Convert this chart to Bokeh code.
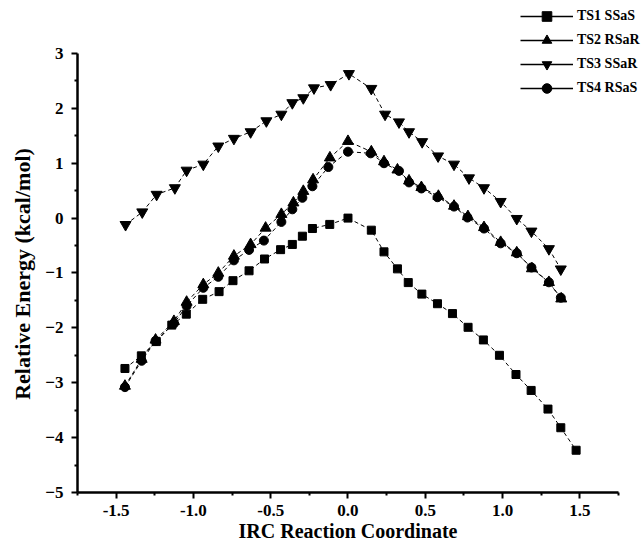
from bokeh.plotting import figure
from bokeh.models import (Range1d, FixedTicker, Legend, LegendItem,
                          ColumnDataSource)
from bokeh.embed import file_html
from bokeh.resources import INLINE

# ---- data ----
ts1_x = [-1.443, -1.337, -1.24, -1.14, -1.046, -0.94, -0.834, -0.744, -0.64, -0.54,
         -0.436, -0.36, -0.295, -0.23, -0.118, 0.0, 0.151, 0.233, 0.32, 0.39,
         0.478, 0.579, 0.676, 0.777, 0.876, 0.98, 1.087, 1.185, 1.294, 1.377, 1.476]
ts1_y = [-2.74, -2.51, -2.25, -1.95, -1.75, -1.48, -1.34, -1.14, -0.96, -0.745,
         -0.575, -0.48, -0.33, -0.19, -0.115, 0.0, -0.22, -0.615, -0.925, -1.175,
         -1.385, -1.56, -1.74, -1.99, -2.22, -2.5, -2.85, -3.14, -3.48, -3.82, -4.23]

ts2_x = [-1.443, -1.335, -1.245, -1.126, -1.044, -0.936, -0.839, -0.738, -0.63, -0.533,
         -0.431, -0.353, -0.289, -0.226, -0.117, 0.0, 0.151, 0.233, 0.32, 0.395,
         0.475, 0.585, 0.686, 0.776, 0.88, 0.988, 1.092, 1.19, 1.30, 1.38]
ts2_y = [-3.06, -2.57, -2.22, -1.88, -1.53, -1.21, -1.0, -0.69, -0.48, -0.18,
         0.07, 0.28, 0.49, 0.70, 1.10, 1.40, 1.21, 1.03, 0.88, 0.68,
         0.56, 0.40, 0.22, 0.03, -0.17, -0.44, -0.63, -0.92, -1.17, -1.47]

ts3_x = [-1.439, -1.331, -1.238, -1.12, -1.044, -0.936, -0.839, -0.738, -0.63, -0.528,
         -0.431, -0.36, -0.289, -0.22, -0.112, 0.006, 0.151, 0.24, 0.33, 0.395,
         0.48, 0.583, 0.686, 0.783, 0.88, 0.988, 1.092, 1.187, 1.30, 1.377]
ts3_y = [-0.12, 0.11, 0.43, 0.55, 0.87, 0.98, 1.31, 1.45, 1.57, 1.77,
         1.89, 2.10, 2.19, 2.37, 2.43, 2.63, 2.36, 1.89, 1.75, 1.57,
         1.39, 1.13, 0.98, 0.73, 0.55, 0.30, -0.01, -0.24, -0.56, -0.93]

ts4_x = [-1.443, -1.335, -1.245, -1.126, -1.044, -0.936, -0.839, -0.738, -0.64, -0.544,
         -0.431, -0.36, -0.295, -0.23, -0.127, 0.0, 0.147, 0.233, 0.33, 0.395,
         0.475, 0.579, 0.686, 0.773, 0.88, 0.988, 1.092, 1.187, 1.30, 1.377]
ts4_y = [-3.08, -2.60, -2.24, -1.92, -1.60, -1.27, -1.07, -0.77, -0.58, -0.41,
         -0.07, 0.16, 0.37, 0.58, 0.93, 1.21, 1.18, 1.00, 0.86, 0.65,
         0.54, 0.38, 0.21, 0.01, -0.19, -0.46, -0.64, -0.90, -1.17, -1.45]

labels = ["TS1 SSaS", "TS2 RSaR", "TS3 SSaR", "TS4 RSaS"]
markers = ["square", "triangle", "inverted_triangle", "circle"]
sizes = [8, 11, 11, 9]

x_major = [-1.5, -1.0, -0.5, 0.0, 0.5, 1.0, 1.5]
x_minor = [-1.75, -1.25, -0.75, -0.25, 0.25, 0.75, 1.25, 1.75]
x_bounds = (-1.75, 1.75)
y_major = [-5, -4, -3, -2, -1, 0, 1, 2, 3]
y_minor = [-4.5, -3.5, -2.5, -1.5, -0.5, 0.5, 1.5, 2.5]
y_bounds = (-5, 3)

FONT = "Liberation Serif"
NB = "\u00a0"

# frame extends beyond the axis bounds so the legend (top right) is not clipped
p = figure(width=643, height=547, output_backend="svg", toolbar_location=None,
           x_range=Range1d(-1.75, 1.912), y_range=Range1d(-5, 3.965),
           min_border_left=77, min_border_top=0, min_border_right=0,
           min_border_bottom=55)
# a range that lies far away, used only for solid legend swatches
p.extra_x_ranges = {"swatch": Range1d(100, 101)}
p.outline_line_color = None
p.grid.visible = False
p.background_fill_color = "white"

series = [(ts1_x, ts1_y), (ts2_x, ts2_y), (ts3_x, ts3_y), (ts4_x, ts4_y)]
items = []
for (xs, ys), lab, mk, sz in zip(series, labels, markers, sizes):
    src = ColumnDataSource(dict(x=xs, y=ys))
    p.line("x", "y", source=src, line_color="black", line_width=1, line_dash="4 3")
    sr = p.scatter("x", "y", source=src, marker=mk, size=sz,
                   fill_color="black", line_color="black")
    lr = p.line("x", "y", source=src, line_color="black", line_width=1.3,
                x_range_name="swatch")
    items.append(LegendItem(label=lab, renderers=[lr, sr]))

legend = Legend(items=items, location=(443, 392),
                background_fill_alpha=0, border_line_alpha=0,
                padding=0, margin=0, spacing=0,
                glyph_width=53, glyph_height=24, label_height=20,
                label_standoff=4,
                label_text_font=FONT, label_text_font_style="bold",
                label_text_font_size="14px", label_text_color="black")
p.add_layout(legend, "center")

for ax in (p.xaxis[0], p.yaxis[0]):
    ax.axis_line_width = 2.5
    ax.axis_line_color = "black"
    ax.major_tick_line_width = 2
    ax.minor_tick_line_width = 2
    ax.major_tick_in = 0
    ax.minor_tick_in = 0
    ax.major_tick_out = 6
    ax.minor_tick_out = 3
    ax.major_label_text_font = FONT
    ax.major_label_text_font_style = "bold"
    ax.major_label_text_font_size = "17px"
    ax.major_label_text_color = "black"
    ax.axis_label_text_font = FONT
    ax.axis_label_text_font_style = "bold"
    ax.axis_label_text_font_size = "20px"
    ax.axis_label_text_color = "black"
    ax.major_label_text_line_height = 1.0
    ax.axis_label_text_line_height = 1.0

p.xaxis[0].bounds = x_bounds
p.yaxis[0].bounds = y_bounds
p.xaxis[0].ticker = FixedTicker(ticks=x_major, minor_ticks=x_minor)
p.yaxis[0].ticker = FixedTicker(ticks=y_major, minor_ticks=y_minor)
p.xaxis[0].major_label_overrides = {v: f"{v:.1f}" for v in x_major}
# trailing no-break spaces re-centre the titles on the bounded axes
p.xaxis[0].axis_label = "IRC Reaction Coordinate" + NB * 5
p.yaxis[0].axis_label = "Relative Energy (kcal/mol)" + NB * 10
p.yaxis[0].axis_label_text_font_size = "22px"
p.xaxis[0].major_label_standoff = 6
p.xaxis[0].axis_label_standoff = 1
p.yaxis[0].major_label_standoff = 8
p.yaxis[0].axis_label_standoff = 7

open("out.html", "w").write(file_html(p, INLINE))
